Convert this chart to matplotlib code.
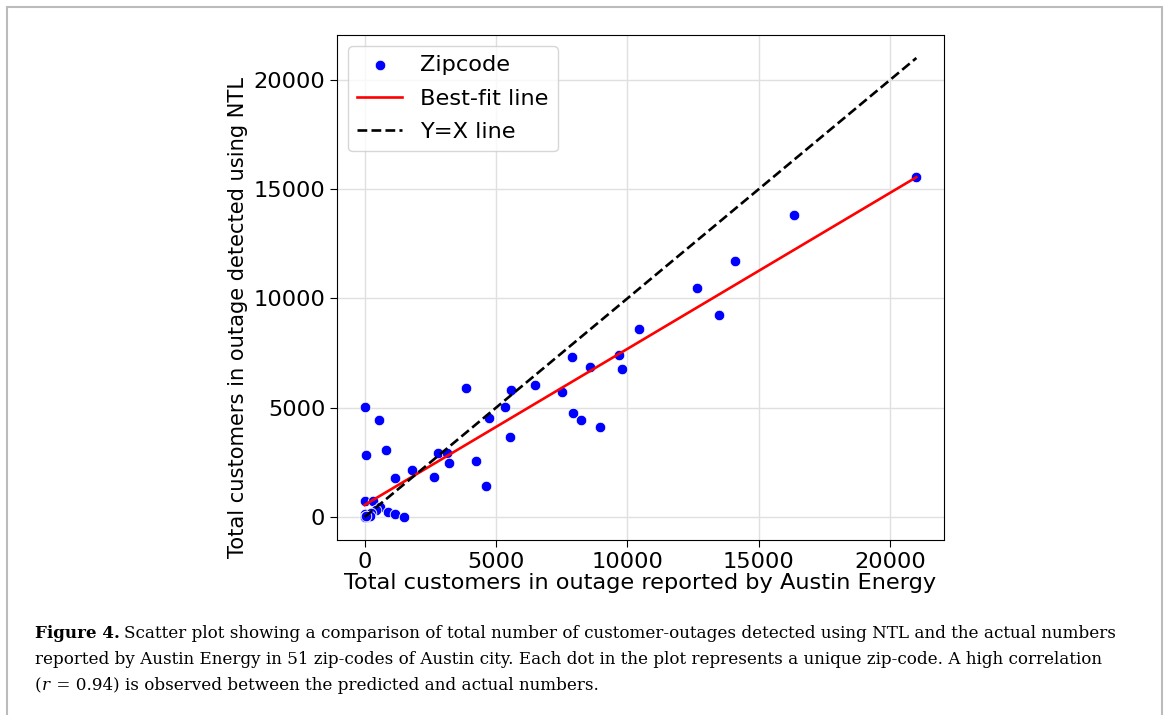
import numpy as np
import matplotlib
matplotlib.use("Agg")
import matplotlib.pyplot as plt
from matplotlib.patches import Rectangle

# outages per zip-code: reported by Austin Energy (x) vs detected using NTL (y)
reported = [21000, 16360, 14080, 12650, 13490, 10450, 7910, 9700, 9810, 8570,
            6490, 3850, 5570, 7530, 5360, 0, 530, 4720, 7920, 8240,
            8970, 5520, 815, 45, 2790, 3140, 3230, 4230, 1800, 1150,
            2640, 4620, 0, 320, 600, 420, 875, 1160, 1490, 0,
            105, 0, 60, 150, 30, 250, 0, 90, 200, 10, 40]
detected = [15550, 13820, 11730, 10480, 9220, 8610, 7330, 7390, 6780, 6885,
            6020, 5910, 5830, 5730, 5040, 5040, 4450, 4510, 4750, 4420,
            4130, 3640, 3080, 2850, 2910, 2910, 2470, 2560, 2160, 1800,
            1840, 1420, 730, 730, 460, 335, 245, 120, 0, 0,
            0, 20, 40, 80, 150, 200, 0, 10, 60, 0, 30]

caption_lines = [
    "Scatter plot showing a comparison of total number of customer-outages detected using NTL and the actual numbers",
    "reported by Austin Energy in 51 zip-codes of Austin city. Each dot in the plot represents a unique zip-code. A high correlation",
]

fig = plt.figure(figsize=(11.67, 7.15), dpi=100)
ax = fig.add_axes([0.2888, 0.2448, 0.5201, 0.7062])

x = np.array(reported, dtype=float)
y = np.array(detected, dtype=float)

ax.scatter(x, y, s=58, color='blue', edgecolor='white', linewidth=0.6,
           label='Zipcode', zorder=3)
# best-fit line
m, b = np.polyfit(x, y, 1)
xs = np.array([0, x.max()])
ax.plot(xs, m * xs + b, color='red', lw=1.9, label='Best-fit line', zorder=4)
ax.plot(xs, xs, 'k--', lw=1.9, label='Y=X line', zorder=4)

ax.grid(True, color='#e0e0e0', lw=1.0)
ax.set_axisbelow(True)
ax.tick_params(labelsize=16.2, length=5)
ax.set_xticks([0, 5000, 10000, 15000, 20000])
ax.set_yticks([0, 5000, 10000, 15000, 20000])
ax.set_xlabel('Total customers in outage reported by Austin Energy', fontsize=16.2, labelpad=1)
ax.set_ylabel('Total customers in outage detected using NTL', fontsize=15.1)
ax.yaxis.set_label_coords(-0.147, 0.44)
ax.legend(loc='upper left', fontsize=16.2, handlelength=2.0, labelspacing=0.6)

# caption
fig.canvas.draw()
r = fig.canvas.get_renderer()
cap_kw = dict(family='DejaVu Serif', fontsize=12.08, va='baseline')
x0 = 35 / 1167
ys = [1 - 638 / 715, 1 - 664 / 715, 1 - 690 / 715]


def put(xpos, ypos, s, **kw):
    t = fig.text(xpos, ypos, s, **{**cap_kw, **kw})
    w = t.get_window_extent(r).width / fig.bbox.width
    return xpos + w


xp = put(x0, ys[0], "Figure 4.", fontweight='bold')
put(xp + 4 / 1167, ys[0], caption_lines[0])
put(x0, ys[1], caption_lines[1])
xp = put(x0, ys[2], "(")
xp = put(xp, ys[2], "r", style='italic')
put(xp + 1 / 1167, ys[2], " = 0.94) is observed between the predicted and actual numbers.")

# frame around figure
fig.patches.append(Rectangle((7 / 1167, -0.01), 1155 / 1167, 1 - 7 / 715 + 0.01,
                             transform=fig.transFigure, fill=False,
                             edgecolor='#bbbbbb', lw=1.5))

fig.savefig('out.png', dpi=100)
